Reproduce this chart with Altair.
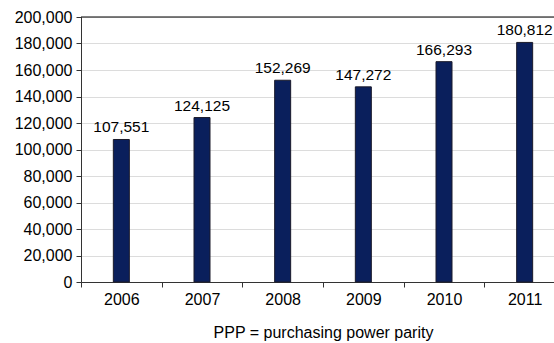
import altair as alt
import pandas as pd

# Annual values (PPP), 2006-2011
years = ["2006", "2007", "2008", "2009", "2010", "2011"]
values = [107551, 124125, 152269, 147272, 166293, 180812]
y_ticks = [0, 20000, 40000, 60000, 80000, 100000, 120000, 140000, 160000, 180000, 200000]

df = pd.DataFrame({"year": years, "value": values})
df["label"] = [f"{v:,}" for v in values]

FONT = "Liberation Sans"

x_axis = alt.Axis(
    title="PPP = purchasing power parity",
    titleFont=FONT,
    titleFontSize=16,
    titleFontWeight="normal",
    titleColor="black",
    titlePadding=17,
    labelFont=FONT,
    labelFontSize=16,
    labelColor="black",
    labelAngle=0,
    labelPadding=4,
    labelOverlap=False,
    tickBand="extent",
    tickSize=5,
    tickColor="#333333",
    domainColor="#333333",
    grid=False,
)

y_axis = alt.Axis(
    title=None,
    values=y_ticks,
    format=",d",
    labelFont=FONT,
    labelFontSize=16,
    labelColor="black",
    labelPadding=4,
    labelOverlap=False,
    labelFlush=False,
    tickSize=5,
    tickColor="#333333",
    domainColor="#333333",
    gridColor="#dcdcdc",
    gridWidth=1,
)

x_scale = alt.Scale(range=[0, 484], paddingInner=0, paddingOuter=0)
y_scale = alt.Scale(domain=[0, 200000], nice=False)

x_enc = alt.X("year:N", sort=years, scale=x_scale, axis=x_axis)
y_enc = alt.Y("value:Q", scale=y_scale, axis=y_axis)

bars = alt.Chart(df).mark_bar(
    width=16, color="#0a1f5c", stroke="#1a1a2a", strokeWidth=1
).encode(x=x_enc, y=y_enc)

labels = alt.Chart(df).mark_text(
    font=FONT, fontSize=15.5, color="black", baseline="bottom", dy=-4
).encode(x=x_enc, y=y_enc, text="label:N")

# black frame line along the top of the plot
top_df = pd.DataFrame({"value": [200000]})
top_line = alt.Chart(top_df).mark_rule(color="black", strokeWidth=1.2).encode(
    y=y_enc,
    x=alt.value(0),
    x2=alt.value(484),
)

chart = (
    alt.layer(bars, labels, top_line)
    .properties(
        width=473,
        height=265,
        autosize=alt.AutoSizeParams(type="none"),
        padding={"left": 81, "top": 17, "right": 0, "bottom": 61},
        background="white",
    )
    .configure_view(stroke=None)
)

chart.save("out.html", embed_options={"renderer": "svg", "actions": False})
